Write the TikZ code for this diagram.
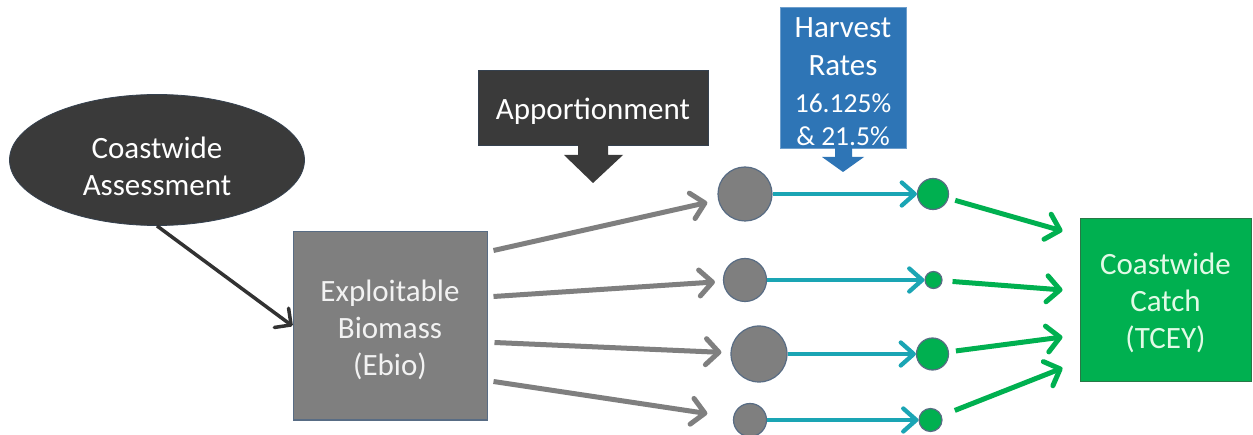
\documentclass[tikz,border=0pt]{standalone}
\usepackage{fontspec}
\setmainfont{Carlito}
\usetikzlibrary{shapes.geometric,arrows.meta,calc}
\definecolor{darkfill}{RGB}{58,58,58}
\definecolor{darkline}{RGB}{50,50,50}
\definecolor{grayfill}{RGB}{127,127,127}
\definecolor{grayedge}{RGB}{88,108,132}
\definecolor{tealc}{RGB}{26,165,180}
\definecolor{greenc}{RGB}{0,176,80}
\definecolor{greenedge}{RGB}{40,120,70}
\definecolor{bluec}{RGB}{46,117,182}
\definecolor{textlight}{RGB}{242,242,242}
\definecolor{textgreen}{RGB}{225,250,230}
\begin{document}
\begin{tikzpicture}[x=1pt,y=-1pt,
  bigfont/.style={font=\fontsize{31}{37}\selectfont},
  lbl/.style={align=center,inner sep=0pt,bigfont},
  darkbox/.style={fill=darkfill,draw=grayedge!60!black,line width=0.8pt},
  graybox/.style={rectangle,fill=grayfill,draw=grayedge,line width=1pt},
  gcirc/.style={circle,fill=grayfill,draw=grayedge,line width=1.2pt,inner sep=0pt,minimum size=#1},
  ccirc/.style={circle,fill=greenc,draw=grayedge,line width=1.2pt,inner sep=0pt,minimum size=#1},
  grayarrow/.style={draw=grayfill,line width=5pt,-{Straight Barb[length=13pt,width=26pt,round]}},
  tealarrow/.style={draw=tealc,line width=4.3pt,-{Straight Barb[length=13pt,width=23pt,round]}},
  greenarrow/.style={draw=greenc,line width=5pt,-{Straight Barb[length=13pt,width=26pt,round]}},
  darkarrow/.style={draw=darkline,line width=3.5pt,-{Straight Barb[length=12pt,width=24pt,round]}}
]
\useasboundingbox (0,0) rectangle (1253,435);
\fill[white] (0,0) rectangle (1253,435);

% Coastwide Assessment
\node[ellipse,darkbox,minimum width=295pt,minimum height=131pt,inner sep=0pt] (ass) at (157,160) {};
\node[lbl,text=white] (asst) at ($(ass.center)+(0,6)$) {Coastwide\\Assessment};

% Exploitable Biomass
\node[graybox,minimum width=194pt,minimum height=188pt,inner sep=0pt] (ebio) at (390,326) {};
\node[lbl,text=textlight] (ebiot) at ($(ebio.center)+(0,3.5)$) {Exploitable\\Biomass\\(Ebio)};

% Apportionment callout
\node[rectangle,darkbox,minimum width=230pt,minimum height=75pt,inner sep=0pt] (app) at (593,107.5) {};
\node[lbl,text=white] (appt) at ($(app.center)+(0,4)$) {Apportionment};
\fill[darkfill] (578,144) -- (608,144) -- (608,155) -- (623,155) -- (593,183)
  -- (564,155) -- (578,155) -- cycle;

% Harvest Rates callout
\node[rectangle,fill=bluec,draw=bluec!70!white,line width=0.8pt,minimum width=126pt,
      minimum height=141pt,inner sep=0pt] (hv) at (843,77.5) {};
\node[text=white,align=center,font=\fontsize{31}{38}\selectfont,inner sep=0pt] (hvt1)
  at (843,47) {Harvest\\Rates};
\node[text=white,align=center,font=\fontsize{27.5}{33}\selectfont,inner sep=0pt] (hvt2)
  at (843,119.5) {16.125\%\\\& 21.5\%};
\fill[bluec] (835,147) -- (852,147) -- (852,157) -- (864,157) -- (843,172)
  -- (822,157) -- (835,157) -- cycle;

% Coastwide Catch
\node[rectangle,fill=greenc,draw=greenedge,line width=1pt,minimum width=171pt,
      minimum height=163pt,inner sep=0pt] (catch) at (1165.5,300) {};
\node[lbl,text=textgreen] (catcht) at ($(catch.center)+(0,3)$) {Coastwide\\Catch\\(TCEY)};

% gray circles
\node[gcirc=54pt] (g1) at (745,194) {};
\node[gcirc=43pt] (g2) at (745,280) {};
\node[gcirc=56pt] (g3) at (759,354) {};
\node[gcirc=33pt] (g4) at (750,420) {};

% green circles
\node[ccirc=31pt] (c1) at (933,194) {};
\node[ccirc=17pt] (c2) at (933.5,280) {};
\node[ccirc=32pt] (c3) at (932.5,354) {};
\node[ccirc=23pt] (c4) at (930.5,420) {};

% start / end coordinates
\coordinate (s1) at ($(ebio.north east)+(6,19)$);
\coordinate (s2) at ($(ebio.north east)+(6,65)$);
\coordinate (s3) at ($(ebio.north east)+(7,111)$);
\coordinate (s4) at ($(ebio.north east)+(6,150)$);
\coordinate (e1) at ($(catch.north west)+(-17,13)$);
\coordinate (e2) at ($(catch.north west)+(-17,72)$);
\coordinate (e3) at ($(catch.north west)+(-17,119)$);
\coordinate (e4) at ($(catch.north west)+(-17,150)$);

% connectors
\draw[darkarrow] (ass.south) -- (ebio.west);

\draw[grayarrow,shorten >=11pt] (s1) -- (g1);
\draw[grayarrow,shorten >=8pt] (s2) -- (g2);
\draw[grayarrow,shorten >=9pt] (s3) -- (g3);
\draw[grayarrow,shorten >=26pt] (s4) -- (g4);

\draw[tealarrow] (g1) -- (c1);
\draw[tealarrow] (g2) -- (c2);
\draw[tealarrow] (g3) -- (c3);
\draw[tealarrow] (g4) -- (c4);

\draw[greenarrow,shorten <=7pt] (c1) -- (e1);
\draw[greenarrow,shorten <=10pt] (c2) -- (e2);
\draw[greenarrow,shorten <=7pt] (c3) -- (e3);
\draw[greenarrow,shorten <=14pt] (c4) -- (e4);
\end{tikzpicture}
\end{document}
